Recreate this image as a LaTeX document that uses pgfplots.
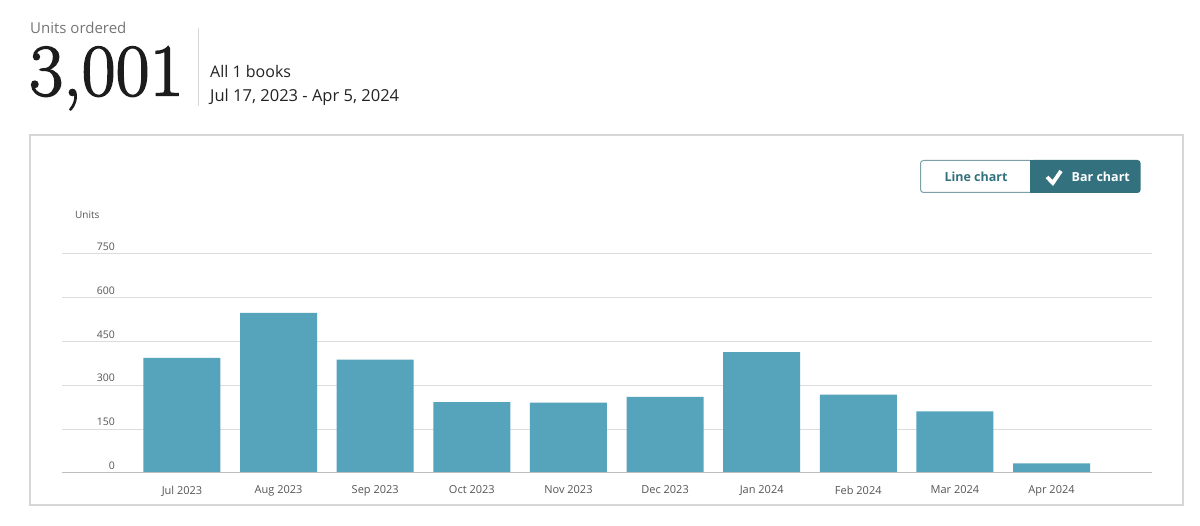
\documentclass[border=0pt]{standalone}
\usepackage{pgfplots}
\pgfplotsset{compat=1.18}
\usepackage{fontspec}
\usepackage{graphicx}
\newfontfamily\osans{Open Sans}
\newfontfamily\bignum[FakeBold=2]{Latin Modern Roman}
\definecolor{barc}{HTML}{56A4BC}
\definecolor{gridc}{HTML}{DCDCDC}
\definecolor{basec}{HTML}{BDBDBD}
\definecolor{boxc}{HTML}{D6D6D6}
\definecolor{btn}{HTML}{34717F}
\definecolor{btnborder}{HTML}{7C9FA8}
\definecolor{hdr}{HTML}{767676}
\definecolor{big}{HTML}{1C1C1C}
\definecolor{txt}{HTML}{232323}
\definecolor{tick}{HTML}{555555}
\begin{document}
\begin{tikzpicture}[x=1pt,y=1pt]
\useasboundingbox (0,0) rectangle (1200,526);
\fill[white] (0,0) rectangle (1200,526);
% header
\node[anchor=base west, inner sep=0pt, text=hdr] at (30,492.5) {\osans\fontsize{15}{18}\selectfont Units ordered};
\node[anchor=base west, inner sep=0pt, text=big] at (29,430.5) {\scalebox{1.0}[1]{\bignum\fontsize{74}{74}\selectfont 3,001}};
\draw[boxc, line width=1pt] (198,498) -- (198,420);
\node[anchor=base west, inner sep=0pt, text=txt] at (210,448.5) {\osans\fontsize{16}{19}\selectfont All 1 books};
\node[anchor=base west, inner sep=0pt, text=txt] at (210,424) {\osans\fontsize{16.5}{19}\selectfont Jul 17, 2023 - Apr 5, 2024};
% box
\draw[boxc, line width=2pt] (30,391) rectangle (1183,21);
% buttons
\draw[btnborder, line width=1pt, fill=white, rounded corners=3pt] (920.5,365.5) rectangle (1034,333.5);
\fill[btn, rounded corners=3pt] (1030,366) rectangle (1140.5,333);
\fill[btn] (1030,366) rectangle (1036,333);
\node[anchor=base, inner sep=0pt, text=btn] at (976,344) {\osans\bfseries\fontsize{12.5}{15}\selectfont Line chart};
\draw[white, line width=3.8pt, line cap=butt, line join=miter] (1047,349) -- (1052.8,343) -- (1061,355);
\node[anchor=base west, inner sep=0pt, text=white] at (1071.5,344) {\osans\bfseries\fontsize{12.5}{15}\selectfont Bar chart};
% units label
\node[anchor=west, inner sep=0pt, text=tick] at (75,311) {\osans\fontsize{10}{12}\selectfont Units};
\begin{axis}[at={(62pt,53pt)}, anchor=south west, scale only axis,
  width=1090pt, height=219pt,
  xmin=-1.242, xmax=10.04, ymin=0, ymax=750,
  axis line style={draw=none}, major tick length=0pt,
  ytick={0,150,300,450,600,750}, yticklabels={0,150,300,450,600,750},
  xtick={0,1,2,3,4,5,6,7,8,9},
  xticklabels={Jul 2023,Aug 2023,Sep 2023,Oct 2023,Nov 2023,Dec 2023,Jan 2024,Feb 2024,Mar 2024,Apr 2024},
  ymajorgrids, grid style={color=gridc, line width=1pt},
  yticklabel style={anchor=base east, inner sep=0pt, xshift=53pt, yshift=3.5pt, text=tick, font=\osans\fontsize{10.5}{12}\selectfont},
  xticklabel style={anchor=north, inner sep=0pt, yshift=-12.5pt, text=tick, font=\osans\fontsize{11}{13}\selectfont},
  clip=false]
\addplot[ybar, bar width=77pt, fill=barc, draw=none] coordinates {
(0,394) (1,548) (2,388) (3,243) (4,241) (5,261) (6,414) (7,268) (8,211) (9,33)};
\draw[basec, line width=1pt] (axis cs:-1.242,0) -- (axis cs:10.04,0);
\end{axis}
\end{tikzpicture}
\end{document}
